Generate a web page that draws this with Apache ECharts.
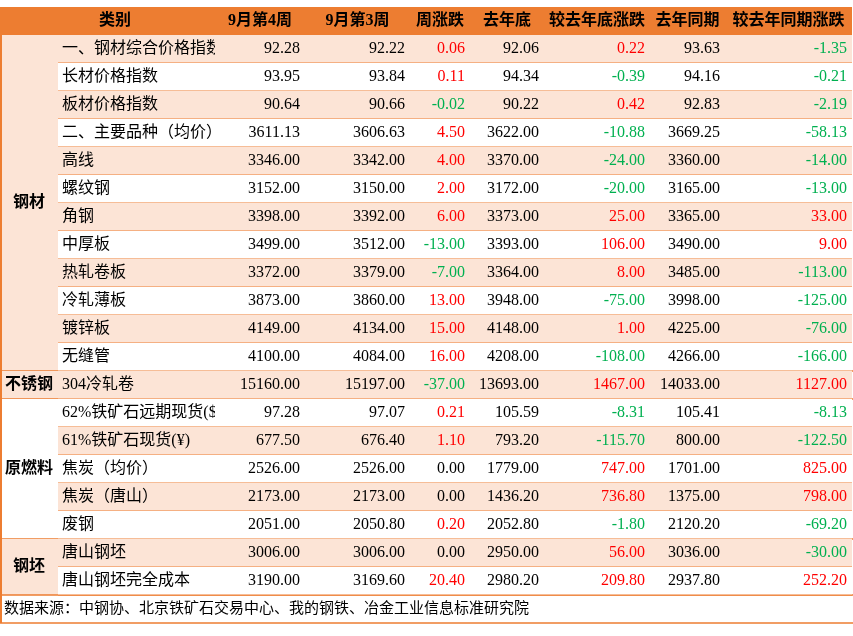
<!DOCTYPE html>
<html><head><meta charset="utf-8">
<script src="https://cdn.jsdelivr.net/npm/echarts@6/dist/echarts.min.js"></script>
<style>html,body{margin:0;padding:0;background:#fff}#c{width:853px;height:636px}</style>
</head><body><div id="c"></div>
<script>
const headers = ['类别', '9月第4周', '9月第3周', '周涨跌', '去年底', '较去年底涨跌', '去年同期', '较去年同期涨跌'];
const names = ['一、钢材综合价格指数', '长材价格指数', '板材价格指数', '二、主要品种（均价）', '高线', '螺纹钢', '角钢', '中厚板', '热轧卷板', '冷轧薄板', '镀锌板', '无缝管',
  '304冷轧卷', '62%铁矿石远期现货($)', '61%铁矿石现货(¥)', '焦炭（均价）', '焦炭（唐山）', '废钢', '唐山钢坯', '唐山钢坯完全成本'];
const week4 = ['92.28', '93.95', '90.64', '3611.13', '3346.00', '3152.00', '3398.00', '3499.00', '3372.00', '3873.00', '4149.00', '4100.00', '15160.00', '97.28', '677.50', '2526.00', '2173.00', '2051.00', '3006.00', '3190.00'];
const week3 = ['92.22', '93.84', '90.66', '3606.63', '3342.00', '3150.00', '3392.00', '3512.00', '3379.00', '3860.00', '4134.00', '4084.00', '15197.00', '97.07', '676.40', '2526.00', '2173.00', '2050.80', '3006.00', '3169.60'];
const weekChg = ['0.06', '0.11', '-0.02', '4.50', '4.00', '2.00', '6.00', '-13.00', '-7.00', '13.00', '15.00', '16.00', '-37.00', '0.21', '1.10', '0.00', '0.00', '0.20', '0.00', '20.40'];
const lastYearEnd = ['92.06', '94.34', '90.22', '3622.00', '3370.00', '3172.00', '3373.00', '3393.00', '3364.00', '3948.00', '4148.00', '4208.00', '13693.00', '105.59', '793.20', '1779.00', '1436.20', '2052.80', '2950.00', '2980.20'];
const endChg = ['0.22', '-0.39', '0.42', '-10.88', '-24.00', '-20.00', '25.00', '106.00', '8.00', '-75.00', '1.00', '-108.00', '1467.00', '-8.31', '-115.70', '747.00', '736.80', '-1.80', '56.00', '209.80'];
const lastYearSame = ['93.63', '94.16', '92.83', '3669.25', '3360.00', '3165.00', '3365.00', '3490.00', '3485.00', '3998.00', '4225.00', '4266.00', '14033.00', '105.41', '800.00', '1701.00', '1375.00', '2120.20', '3036.00', '2937.80'];
const sameChg = ['-1.35', '-0.21', '-2.19', '-58.13', '-14.00', '-13.00', '33.00', '9.00', '-113.00', '-125.00', '-76.00', '-166.00', '1127.00', '-8.13', '-122.50', '825.00', '798.00', '-69.20', '-30.00', '252.20'];
const groups = [['钢材', 0, 11], ['不锈钢', 12, 12], ['原燃料', 13, 17], ['钢坯', 18, 19]];
const footnote = '数据来源：中钢协、北京铁矿石交易中心、我的钢铁、冶金工业信息标准研究院';

// layout
const colEdges = [0, 58, 215, 305, 410, 470, 544, 650, 725, 852];
const headTop = 7, rowTop = 35, rowH = 28;
const ORANGE = '#ED7D31', PINK = '#FCE4D6';
const FONT = '"Liberation Serif", "Noto Sans CJK SC", serif';
const valueCols = [week4, week3, weekChg, lastYearEnd, endChg, lastYearSame, sameChg];
const colored = [false, false, true, false, true, false, true];

const cells = [];
headers.forEach((h, i) => cells.push({ value: [i, -1], kind: 'head', text: h }));
groups.forEach((g, i) => cells.push({ value: [0, g[1]], kind: 'group', text: g[0], end: g[2], gi: i }));
names.forEach((n, r) => {
  cells.push({ value: [1, r], kind: 'name', text: n });
  valueCols.forEach((arr, c) => cells.push({ value: [c + 2, r], kind: 'num', text: arr[r], colored: colored[c] }));
});
cells.push({ value: [0, names.length], kind: 'foot', text: footnote });

function yOf(r) { return r < 0 ? headTop : rowTop + r * rowH; }

const chart = echarts.init(document.getElementById('c'), null, { renderer: 'canvas' });
chart.setOption({
  animation: false,
  grid: { left: 0, right: 0, top: 0, bottom: 0 },
  xAxis: { type: 'value', min: 0, max: 853, show: false },
  yAxis: { type: 'value', min: 0, max: 636, inverse: true, show: false },
  series: [{
    type: 'custom',
    coordinateSystem: 'cartesian2d',
    data: cells,
    renderItem: (params, api) => {
      const d = cells[params.dataIndex];
      const c = api.value(0), r = api.value(1);
      const p0 = api.coord([colEdges[c], yOf(r)]);
      if (d.kind === 'head') {
        const x0 = c === 0 ? colEdges[0] : colEdges[c + 1];
        const x1 = colEdges[c + 2];
        const a = api.coord([x0, headTop]), b = api.coord([x1, rowTop]);
        const tx = c === 0 ? 115 : (a[0] + b[0]) / 2;
        return { type: 'group', children: [
          { type: 'rect', shape: { x: a[0], y: a[1], width: b[0] - a[0], height: b[1] - a[1] }, style: { fill: ORANGE } },
          { type: 'text', style: { x: tx, y: (a[1] + b[1]) / 2, text: d.text, fill: '#000', font: 'bold 16px ' + FONT, align: 'center', verticalAlign: 'middle' } }
        ] };
      }
      if (d.kind === 'group') {
        const a = api.coord([colEdges[0], yOf(r)]), b = api.coord([colEdges[1], yOf(d.end + 1)]);
        return { type: 'group', children: [
          { type: 'rect', shape: { x: a[0], y: a[1], width: b[0] - a[0], height: b[1] - a[1] }, style: { fill: d.gi === 2 ? '#fff' : PINK } },
          { type: 'line', shape: { x1: a[0], y1: b[1], x2: 853, y2: b[1] }, style: { stroke: ORANGE, lineWidth: 1.5 } },
          { type: 'line', shape: { x1: a[0] + 1, y1: a[1], x2: a[0] + 1, y2: b[1] }, style: { stroke: ORANGE, lineWidth: 2 } },
          { type: 'text', style: { x: (a[0] + b[0]) / 2, y: (a[1] + b[1]) / 2, text: d.text, fill: '#000', font: 'bold 16px ' + FONT, align: 'center', verticalAlign: 'middle' } }
        ] };
      }
      if (d.kind === 'foot') {
        const a = api.coord([0, yOf(r)]), b = api.coord([853, yOf(r) + rowH]);
        return { type: 'group', children: [
          { type: 'line', shape: { x1: 1, y1: a[1], x2: 1, y2: b[1] }, style: { stroke: ORANGE, lineWidth: 2 } },
          { type: 'line', shape: { x1: 0, y1: b[1], x2: 853, y2: b[1] }, style: { stroke: ORANGE, lineWidth: 1.5 } },
          { type: 'text', style: { x: 4, y: (a[1] + b[1]) / 2, text: d.text, fill: '#000', font: '15px ' + FONT, verticalAlign: 'middle' } }
        ] };
      }
      const x1 = api.coord([colEdges[c + 1], 0])[0];
      const y1 = api.coord([0, yOf(r) + rowH])[1];
      const fill = r % 2 === 0 ? PINK : '#fff';
      let color = '#000';
      if (d.colored) {
        const v = parseFloat(d.text);
        color = v > 0 ? '#FF0000' : v < 0 ? '#00B050' : '#000';
      }
      const children = [
        { type: 'rect', shape: { x: p0[0], y: p0[1], width: x1 - p0[0], height: y1 - p0[1] }, style: { fill: fill } },
        { type: 'line', shape: { x1: p0[0], y1: y1, x2: x1, y2: y1 }, style: { stroke: ORANGE, lineWidth: 1.2 } }
      ];
      if (d.kind === 'name') {
        children.push({ type: 'text', style: { x: p0[0] + 4, y: (p0[1] + y1) / 2, text: d.text, fill: '#000', font: '16px ' + FONT, verticalAlign: 'middle' } });
      } else {
        children.push({ type: 'text', style: { x: x1 - 5, y: (p0[1] + y1) / 2, text: d.text, fill: color, font: '16px ' + FONT, align: 'right', verticalAlign: 'middle' } });
      }
      return { type: 'group', children: children };
    }
  }]
});
</script></body></html>
